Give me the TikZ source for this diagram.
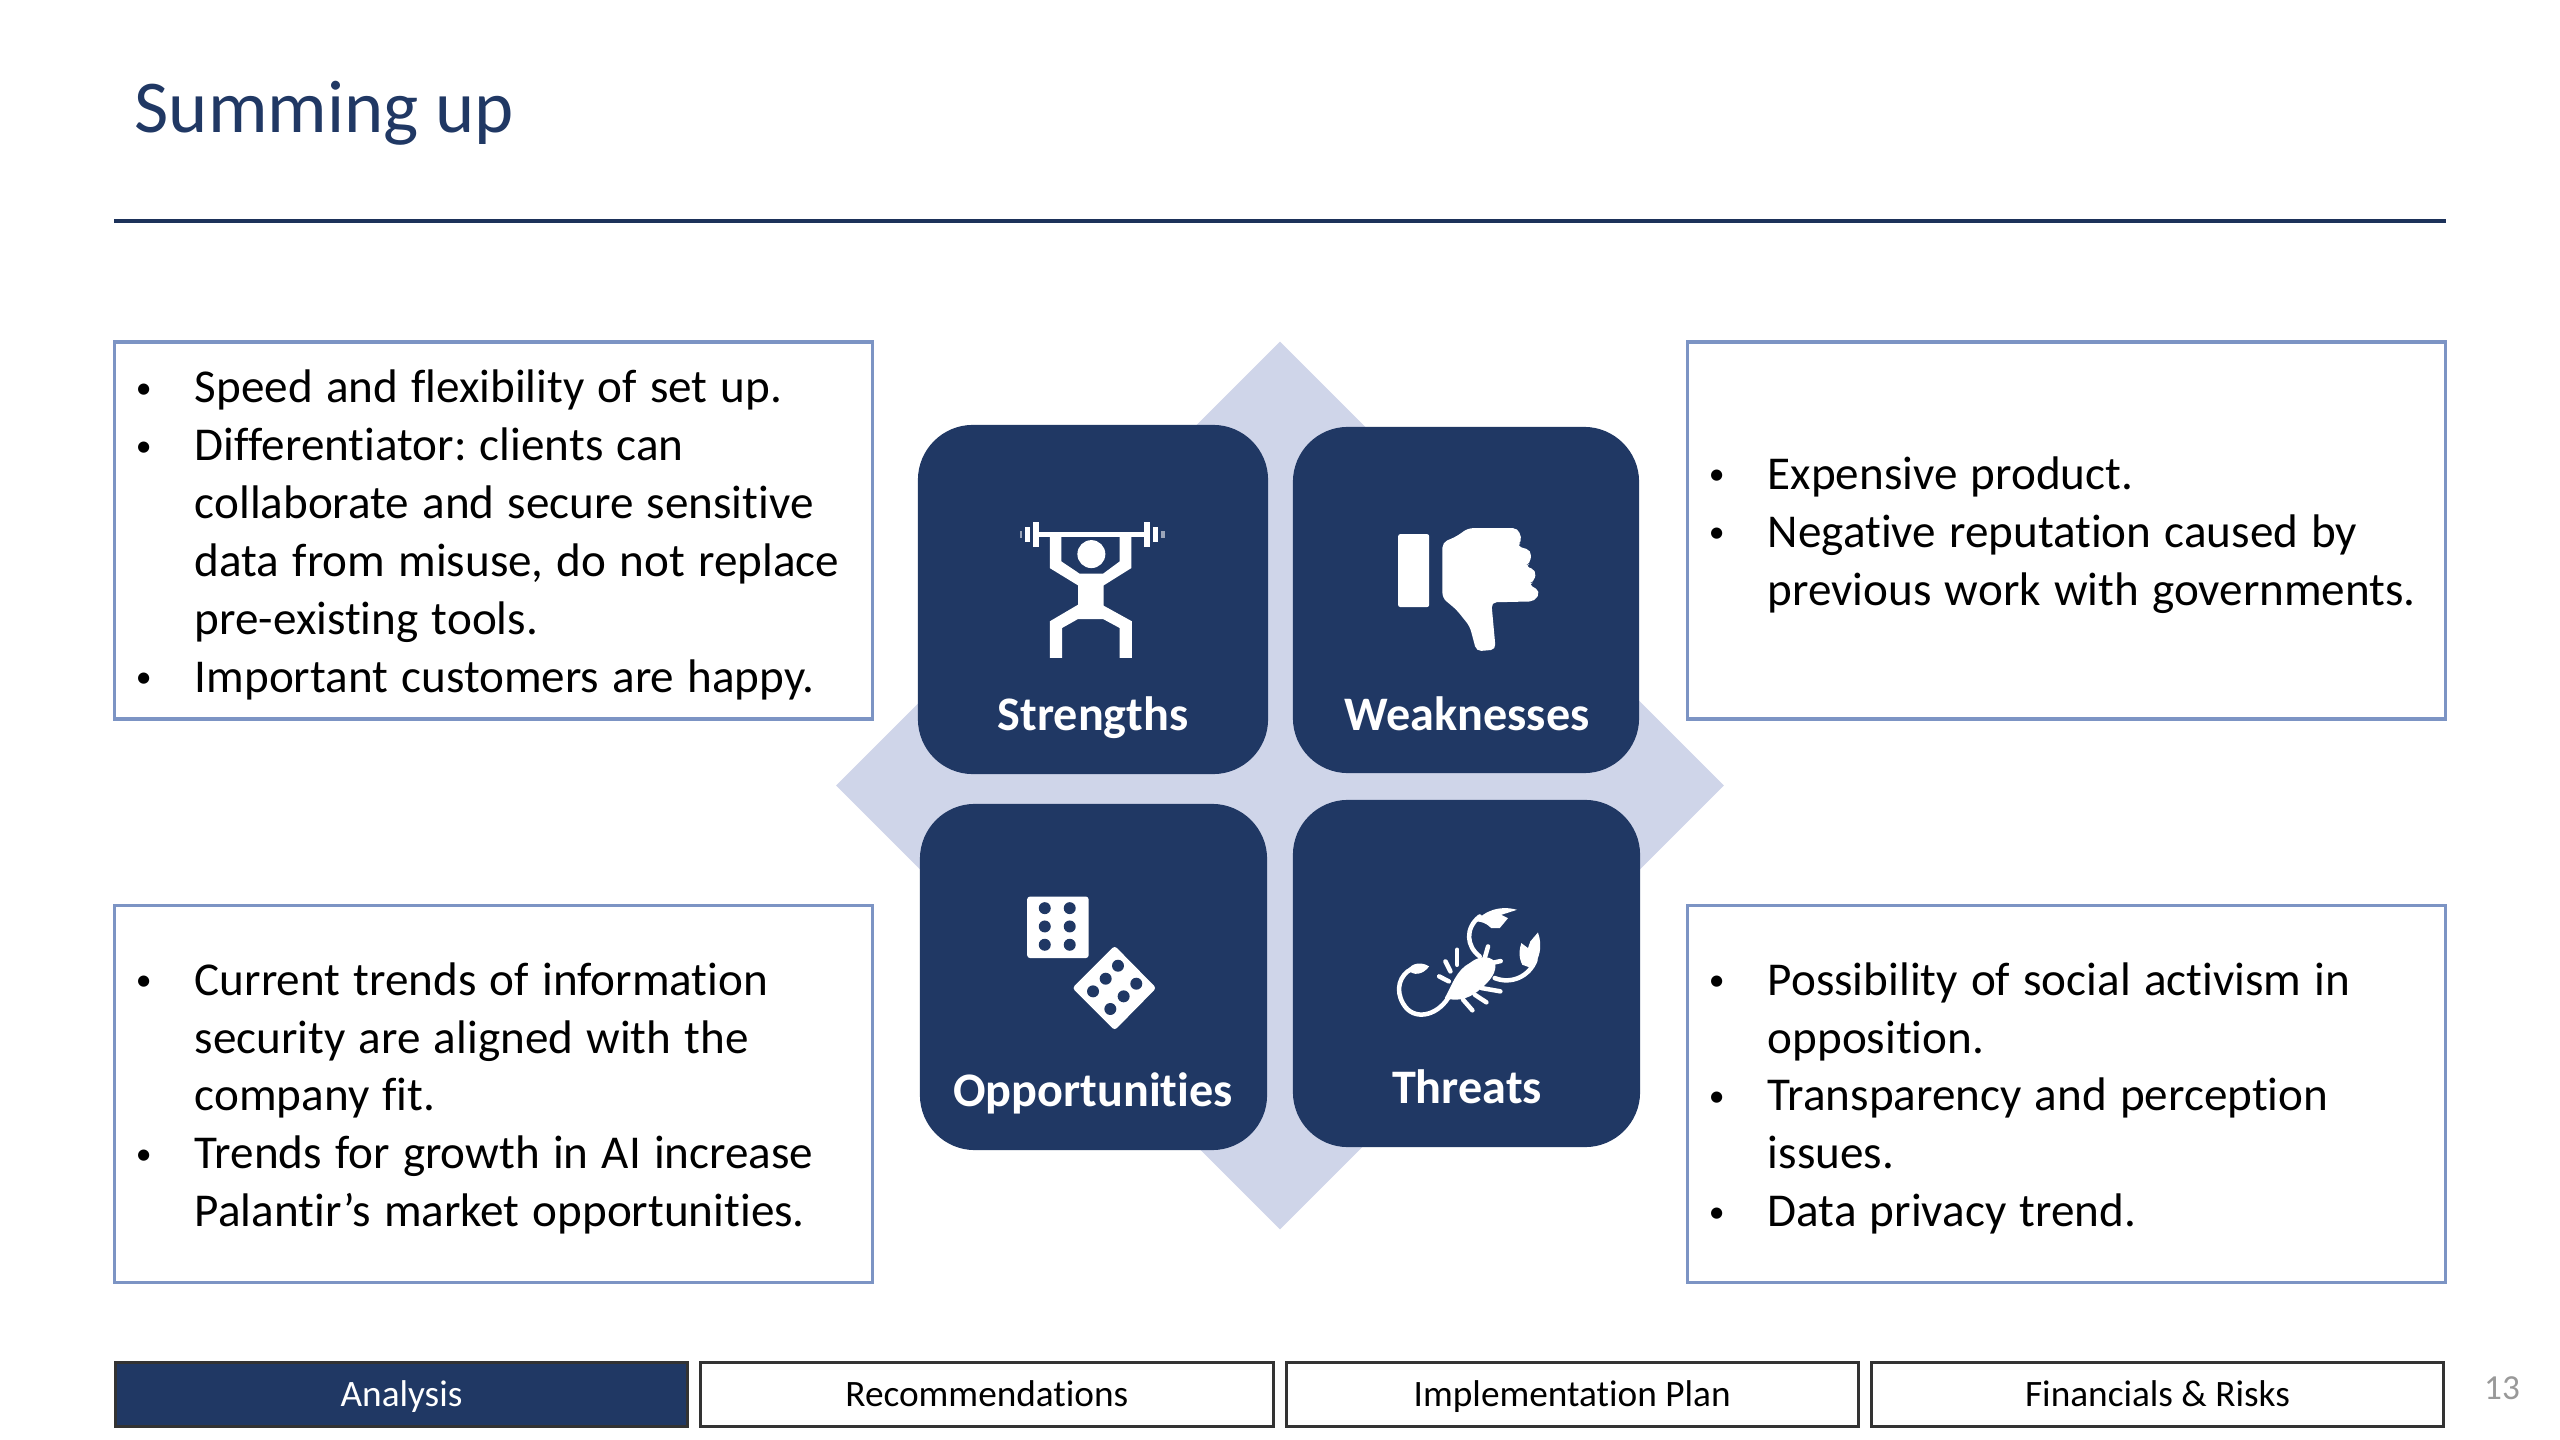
\documentclass[tikz,border=0pt]{standalone}
\usepackage{fontspec}
\setmainfont{Carlito}[Ligatures=NoCommon]
\usepackage{xcolor}
\usetikzlibrary{shapes.geometric,positioning}
\definecolor{navy}{HTML}{203864}
\definecolor{pale}{HTML}{CFD5E9}
\definecolor{edge}{HTML}{7C94C4}
\newcommand{\bl}{\hspace*{0.16cm}\makebox[0.59cm][l]{\raisebox{1.3pt}{\fontsize{9}{9}\selectfont\textbullet}}}
\newcommand{\ct}{\hspace*{0.75cm}}
\newcommand{\bodyfont}{\fontsize{13.4}{16.45}\selectfont\spaceskip=3.75pt\relax\xspaceskip=3.75pt\relax}

\begin{document}
\begin{tikzpicture}[
  x=0.01cm, y=-0.01cm,
  node distance=0.75cm and 0.13cm,
  textbox/.style={draw=edge, line width=0.033cm, minimum width=7.57cm, minimum height=3.77cm,
              text width=7.47cm, text height=0.415cm, inner sep=0pt, outer sep=0pt, align=flush left, fill=white,
              font=\bodyfont},
  tile/.style={fill=navy, rounded corners=0.55cm, inner sep=0pt, outer sep=0pt},
  tilelabel/.style={anchor=base, text=white, font=\fontsize{13.7}{16}\selectfont\bfseries},
  tab/.style={draw=black!80, line width=0.03cm, minimum width=5.72cm, minimum height=0.63cm,
              text height=0.31cm, text depth=0.07cm,
              inner sep=0pt, outer sep=0pt, align=center, font=\fontsize{10.6}{13}\selectfont},
  icon/.style={fill=white, line join=round},
  limb/.style={draw=white, line cap=round, line width=0.045cm}
]
\path[use as bounding box, fill=white] (0,0) rectangle (2560,1440);

% heading
\node[anchor=base west, inner sep=0pt, text=navy, font=\fontsize{21.2}{26}\selectfont] (title) at (134,133) {Summing up};
\coordinate (ruleL) at (114,221);
\coordinate (ruleR) at (2446,221);
\draw[navy!90!black, line width=0.035cm] (ruleL) -- (ruleR);

% text boxes
\node[textbox] (strengthsbox) at (493.5,530.5) {\bl Speed and flexibility of set up.\\
\bl Differentiator: clients can\\
\ct collaborate and secure sensitive\\
\ct data from misuse, do not replace\\
\ct pre-existing tools.\\
\bl Important customers are happy.};
\node[textbox] (weakbox) at (2066.5,530.5) {\bl Expensive product.\\
\bl Negative reputation caused by\\
\ct previous work with governments.};
\node[textbox] (oppbox) at (493.5,1094) {\bl Current trends of information\\
\ct security are aligned with the\\
\ct company fit.\\
\bl Trends for growth in AI increase\\
\ct Palantir’s market opportunities.};
\node[textbox] (threatbox) at (2066.5,1094) {\bl Possibility of social activism in\\
\ct opposition.\\
\bl Transparency and perception\\
\ct issues.\\
\bl Data privacy trend.};

% centre
\node[diamond, fill=pale, aspect=1, inner sep=0pt, minimum width=8.88cm, minimum height=8.88cm] (back) at (1280,785.5) {};
\node[tile, minimum width=3.5cm, minimum height=3.49cm] (strengths) at (1093,599.5) {};
\node[tile, minimum width=3.46cm, minimum height=3.46cm] (weak) at (1466,600) {};
\node[tile, minimum width=3.47cm, minimum height=3.46cm] (opp) at (1093.5,977) {};
\node[tile, minimum width=3.47cm, minimum height=3.47cm] (threat) at (1466.5,973.5) {};

\node[tilelabel] (strengthslabel) at (1093,730.5) {Strengths};
\node[tilelabel] (weaklabel) at (1467,730.5) {Weaknesses};
\node[tilelabel] (opplabel) at (1093,1106.5) {Opportunities};
\node[tilelabel] (threatlabel) at (1467,1103) {Threats};

% weightlifter
\begin{scope}[shift={(900,420)}, x=0.003333cm, y=-0.003333cm]
  \fill[icon] (410,338) rectangle (740,352);
  \fill[icon] (400,308) rectangle (418,382);
  \fill[icon] (733,308) rectangle (751,382);
  \fill[icon] (376,322) rectangle (391,368);
  \fill[icon] (760,322) rectangle (775,368);
  \fill[white!55!navy] (360,335) rectangle (366,355);
  \fill[white!55!navy] (785,335) rectangle (795,355);
  \fill[icon] (450,352) -- (485,352) -- (485,425) -- (540,462) -- (610,462) -- (660,425) -- (660,352)
    -- (695,352) -- (695,445) -- (612,497) -- (612,558) -- (697,605) -- (697,715) -- (660,715)
    -- (660,625) -- (610,598) -- (535,598) -- (487,625) -- (487,715) -- (450,715) -- (450,605)
    -- (535,555) -- (535,497) -- (450,445) -- cycle;
  \fill[icon] (575,403) circle (42);
\end{scope}

% thumb
\begin{scope}[shift={(1300,420)}, x=0.003333cm, y=-0.003333cm]
  \fill[icon, rounded corners=0.02cm] (295,343) rectangle (388,562);
  \fill[icon, rounded corners=0.05cm] (428,368) -- (470,350) -- (505,325) -- (655,325) -- (668,365)
    -- (650,378) -- (695,392) -- (692,432) -- (675,438) -- (710,452) -- (703,488) -- (685,492)
    -- (722,515) -- (705,545) -- (575,548) -- (588,690) -- (530,695) -- (510,620) -- (470,570)
    -- (428,535) -- cycle;
\end{scope}

% dice
\begin{scope}[shift={(900,800)}, x=0.003333cm, y=-0.003333cm]
  \fill[icon, rounded corners=0.03cm] (382,290) rectangle (567,475);
  \fill[icon, rounded corners=0.03cm] (645,438) -- (770,565) -- (645,692) -- (518,565) -- cycle;
  \foreach \dx/\dy in {435/325,510/325,435/380,510/380,435/435,510/435,
                       655/498,618/537,580/575,710/552,672/590,632/628}
    \fill[navy] (\dx,\dy) circle (18);
\end{scope}

% scorpion
\begin{scope}[shift={(1300,800)}, x=0.003333cm, y=-0.003333cm]
  \fill[icon] (435,595) .. controls (455,560) and (470,510) .. (510,490) .. controls (535,470) and (565,465) .. (585,485)
    .. controls (595,515) and (570,545) .. (545,565) .. controls (520,590) and (480,610) .. (435,595) -- cycle;
  \draw[limb] (445,595) .. controls (410,650) and (340,665) .. (310,612) .. controls (285,570) and (300,525) .. (335,508);
  \fill[icon] (325,510) .. controls (335,490) and (365,485) .. (388,500) .. controls (370,525) and (340,530) .. (325,510) -- cycle;
  \draw[limb] (540,470) .. controls (500,440) and (495,385) .. (540,350);
  \fill[icon] (530,365) .. controls (550,335) and (600,315) .. (652,330) -- (605,345) -- (625,355) -- (600,385) -- (575,385) .. controls (560,370) and (545,365) .. (530,365) -- cycle;
  \draw[limb] (585,535) .. controls (635,555) and (690,530) .. (708,480);
  \fill[icon] (668,495) .. controls (655,470) and (660,445) .. (665,430) -- (685,445) -- (692,425) -- (715,398) .. controls (730,440) and (720,480) .. (695,505) -- cycle;
  \foreach \ax/\ay/\bx/\by in {472/495/472/450, 452/515/437/485, 447/545/418/530,
                               555/475/565/440, 575/490/603/484,
                               545/565/602/575, 525/585/560/608, 490/600/518/632}
    \draw[limb] (\ax,\ay) -- (\bx,\by);
\end{scope}

% section tabs
\node[tab, fill=navy, text=white] (analysis) at (401.5,1394.5) {Analysis};
\node[tab, right=of analysis] (recs) {Recommendations};
\node[tab, right=of recs] (plan) {Implementation Plan};
\node[tab, right=of plan] (fin) {Financials \& Risks};
\node[text=black!40, font=\fontsize{10}{12}\selectfont, inner sep=0pt] (pagenum) at (2502,1388) {13};
\end{tikzpicture}
\end{document}
